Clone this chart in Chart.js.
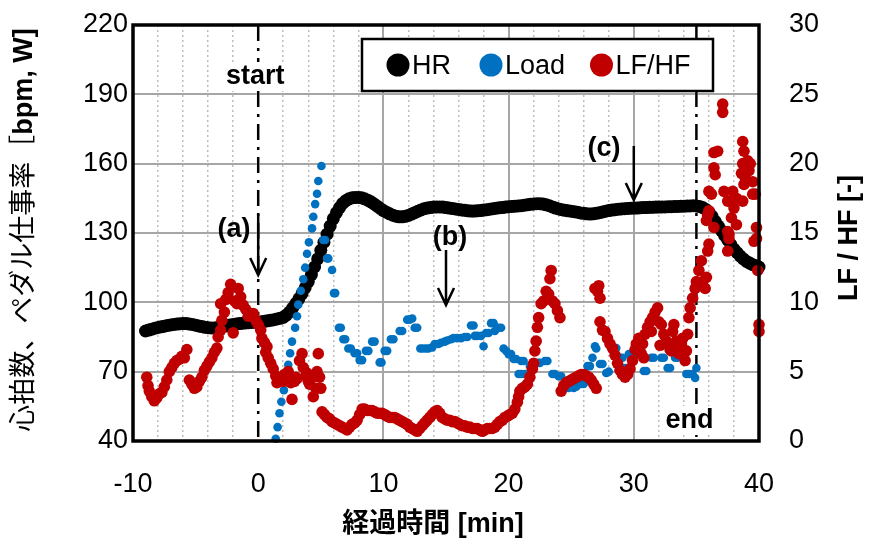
<!DOCTYPE html>
<html>
<head>
<meta charset="utf-8">
<script src="https://cdn.jsdelivr.net/npm/chart.js@4/dist/chart.umd.min.js"></script>
<style>
html,body{margin:0;padding:0;background:#fff;}
canvas{display:block;}
</style>
</head>
<body>
<canvas id="c" width="870" height="541"></canvas>
<script>
// ---------------- DATA ----------------
const xTickLabels = [-10, 0, 10, 20, 30, 40];
const leftTickLabels = [40, 70, 100, 130, 160, 190, 220];
const rightTickLabels = [0, 5, 10, 15, 20, 25, 30];
const seriesNames = ['HR', 'Load', 'LF/HF'];
const eventTimes = [0, 35];           // start / end  [min]
const eventNames = ['start', 'end'];
const noteNames = ['(a)', '(b)', '(c)'];
const noteTimes = [0, 15, 30];

// HR [bpm] sampled every 0.25 min from -9 min
const hrStart = -9, hrStep = 0.25;
const hrValues = [
 87.6,88.0,88.4,88.8, 89.1,89.4,89.7,90.0, 90.2,90.4,90.6,90.7, 90.8,90.8,90.6,90.4,
 90.1,89.8,89.5,89.2, 89.0,88.9,88.9,89.1, 89.3,89.6,89.9,90.2, 90.4,90.6,90.8,91.0,
 91.1,91.2,91.3,91.4, 91.5,91.6,91.8,92.0, 92.2,92.5,92.8,93.1, 93.5,94.5,95.8,97.5,
 99.5,101.5,103.8,106.3, 109.0,112.0,115.3,118.8, 122.5,126.0,129.5,133.0, 136.2,138.8,141.0,142.8,
 144.0,144.8,145.2,145.4, 145.4,145.2,144.8,144.2, 143.5,142.6,141.6,140.6, 139.7,139.0,138.3,137.7,
 137.3,137.0,137.0,137.2, 137.6,138.2,138.8,139.4, 140.0,140.5,140.8,141.0, 141.2,141.3,141.3,141.2,
 141.0,140.8,140.6,140.4, 140.2,140.0,139.8,139.6, 139.5,139.5,139.6,139.7, 139.9,140.1,140.3,140.5,
 140.7,140.9,141.0,141.2, 141.4,141.5,141.6,141.7, 141.8,142.0,142.2,142.4, 142.6,142.7,142.7,142.5,
 142.2,141.8,141.3,140.8, 140.4,140.1,139.8,139.6, 139.4,139.2,139.0,138.7, 138.5,138.3,138.2,138.3,
 138.5,138.8,139.1,139.4, 139.7,139.9,140.1,140.3, 140.4,140.5,140.6,140.7, 140.8,140.8,140.9,141.0,
 141.0,141.1,141.1,141.2, 141.2,141.3,141.3,141.4, 141.4,141.5,141.5,141.6, 141.6,141.7,141.7,141.8,
 141.7,141.5,141.0,140.2, 139.0,137.2,135.0,133.0, 131.0,129.0,127.0,125.0, 123.0,121.5,120.0,118.8,
 117.7,117.0,116.3,115.8, 115.3
];

// Load [W]  [time min, value]
const loadPoints = [
 [1.4,41],[1.55,46],[1.7,52],[1.85,57],[2.05,62],[2.25,68],[2.4,73],[2.55,78],[2.7,83],[2.95,89],
 [3.1,94],[3.2,99],[3.4,105],[3.6,110],[3.75,115],[3.9,121],[4.05,126],[4.3,132],[4.4,137],[4.55,142.5],
 [4.7,147],[4.8,152.5],[5.05,159],
 [5.2,127],[5.35,127],[5.5,119],[5.6,119],[5.9,114],[6.05,104],[6.15,104],[6.45,89],[6.6,89],[6.8,84],
 [6.95,84],[7.2,80],[7.4,80],[7.7,78],[7.9,78],[8.1,75],[8.3,75],[8.6,79],[8.8,79],[9.1,83],[9.3,83],
 [9.7,74],[9.85,74],[10.1,79],[10.3,79],[10.6,84],[10.8,84],[11.3,87.6],[11.5,87.6],[11.9,92.5],[12.1,92.5],
 [12.3,93],[12.5,89],[12.7,89],[12.95,80],[13.15,80],[13.4,80],[13.6,80],[13.9,80.5],[14.1,82],[14.4,82],
 [14.6,82.5],[14.9,83],[15.1,83.5],[15.4,84],[15.6,84.5],[15.9,84.5],[16.2,84.5],[16.5,85],[16.7,85],
 [17.0,90],[17.2,90],[17.3,85.5],[17.5,85.5],[17.8,85.5],[18.0,81],[18.2,86.7],[18.4,86.7],[18.6,91],
 [18.8,91],[18.9,87.6],[19.2,89],[19.4,89],[19.6,80],[19.8,79],[20.0,77.6],[20.2,77.6],[20.4,75.5],
 [20.6,75.5],[20.8,69],[21.0,74.6],[21.2,74.6],[21.0,69],[21.3,69],[21.7,72.4],[21.9,72.4],[22.3,73.8],
 [22.5,73.8],[22.9,74.6],[23.1,74.6],[23.5,69],[23.7,69],[24.0,68],[24.2,68],[24.6,63],[24.8,63],
 [25.2,63],[25.4,63.5],[25.8,64.7],[26.0,64.7],[26.3,72.4],[26.5,72.4],[26.7,76],[26.9,81],[27.0,80],
 [27.3,73.3],[27.5,73.3],[27.8,69.4],[28.0,70],[28.4,80.2],[28.6,80.2],[28.9,76],[29.1,76],[29.3,71.6],
 [29.5,71.6],[29.6,77.6],[29.8,77.6],[30.3,77.6],[30.5,77.6],[30.8,70.3],[31.0,70.3],[31.4,76],[31.6,76],
 [32.2,76],[32.4,76],[32.7,71.6],[32.9,71.6],[33.3,76],[33.5,76],[34.0,76],[34.2,69],[34.4,69],[34.7,69],
 [34.9,67.3],[35.0,71.6]
];

// LF/HF [-]  [time min, value]
const lfPoints = [
 [-8.9,4.6],[-8.8,4.0],[-8.7,3.6],[-8.5,3.2],[-8.3,2.9],[-8.1,3.1],[-7.9,3.4],[-7.7,3.5],[-7.5,3.9],
 [-7.3,4.4],[-7.1,5.0],[-6.9,5.3],[-6.7,5.6],[-6.5,5.8],[-6.3,5.9],[-6.1,6.1],[-5.9,6.0],[-5.7,6.6],
 [-5.5,4.4],[-5.3,4.1],[-5.1,3.8],[-4.9,3.9],[-4.7,4.3],[-4.5,4.6],[-4.3,5.1],[-4.1,5.4],[-3.9,5.7],
 [-3.7,6.0],[-3.5,6.4],[-3.3,6.7],[-3.2,7.5],[-3.0,8.0],[-2.9,8.7],[-3.0,9.9],[-2.7,9.3],[-2.6,10.2],
 [-2.4,10.7],[-2.2,11.3],[-2.0,7.8],[-1.9,10.1],[-1.7,9.9],[-1.6,11.0],[-1.4,10.4],[-1.2,9.8],[-1.0,9.5],
 [-0.8,9.0],[-0.6,9.2],[-0.4,9.2],[-0.2,8.7],[0.0,8.4],[0.2,8.0],[0.3,7.4],[0.5,7.1],[0.7,6.8],[0.6,6.4],
 [0.8,6.0],[1.0,5.6],[1.2,5.2],[1.4,4.7],[1.5,4.2],[1.7,4.3],[1.9,4.6],[2.0,4.3],[2.1,4.8],[2.2,4.4],
 [2.3,4.9],[2.4,5.0],[2.6,4.2],[2.7,3.0],[2.9,4.3],[3.0,4.6],[3.1,4.5],[3.3,5.8],[3.5,6.3],[3.6,5.3],
 [3.8,4.7],[3.9,4.9],[4.0,4.3],[4.1,4.1],[4.2,4.5],[4.4,3.2],[4.5,4.7],[4.6,3.8],[4.7,5.0],[4.8,6.3],
 [4.9,4.6],[5.0,3.8],
 [5.1,2.1],[5.3,1.9],[5.5,1.7],[5.7,1.6],[5.9,1.4],[6.1,1.3],[6.3,1.2],[6.5,1.1],[6.7,1.0],[6.9,0.9],
 [7.1,0.8],[7.3,1.0],[7.5,1.2],[7.7,1.3],[7.9,1.5],[8.1,1.9],[8.3,2.3],[8.5,2.3],[8.7,2.2],[8.9,2.2],
 [9.1,2.2],[9.3,2.1],[9.5,2.0],[9.7,2.0],[9.9,2.0],[10.1,1.9],[10.3,1.8],[10.5,1.7],[10.7,1.7],[10.9,1.7],
 [11.1,1.6],[11.3,1.5],[11.5,1.4],[11.7,1.3],[11.9,1.2],[12.1,1.0],[12.3,0.9],[12.5,0.8],[12.7,0.7],
 [12.9,0.9],[13.1,1.1],[13.3,1.3],[13.5,1.5],[13.7,1.7],[13.9,1.9],[14.1,2.1],[14.3,2.2],[14.5,2.0],
 [14.7,1.7],[14.9,1.6],[15.1,1.5],[15.3,1.5],[15.5,1.4],[15.7,1.4],[15.9,1.3],[16.1,1.2],[16.3,1.1],
 [16.5,1.1],[16.7,1.0],[16.9,1.0],[17.1,0.9],[17.3,0.9],[17.5,0.9],[17.7,0.8],[17.9,0.7],[18.1,0.8],
 [18.3,0.9],[18.5,0.9],[18.7,0.9],[18.9,1.0],[19.1,1.2],[19.3,1.4],[19.5,1.5],[19.7,1.7],[19.9,1.8],
 [20.1,1.9],[20.3,2.0],[20.5,2.3],[20.7,2.8],[20.8,3.2],[20.9,3.6],[21.1,3.8],[21.3,3.9],[21.5,4.1],
 [21.7,4.6],[21.9,5.2],[22.0,5.6],[22.1,6.5],[22.2,7.2],[22.3,8.2],[22.4,8.9],[22.6,9.9],[22.8,10.1],
 [23.0,10.8],[23.2,10.6],[23.3,11.7],[23.4,12.3],[23.5,10.1],[23.7,9.9],[23.9,9.4],[24.1,8.9],
 [24.2,3.6],[24.4,4.0],[24.6,4.2],[24.8,4.3],[25.0,4.4],[25.2,4.5],[25.4,4.6],[25.6,4.7],[25.8,4.8],
 [26.0,4.8],[26.2,4.7],[26.4,4.6],[26.6,4.4],[26.8,4.1],[27.0,3.8],
 [26.9,11.0],[27.1,10.8],[27.2,11.2],[27.3,10.3],[27.3,8.6],[27.5,8.0],[27.7,7.9],[27.9,7.4],[28.1,7.0],
 [28.3,6.7],[28.5,6.2],[28.7,5.6],[28.9,5.1],[29.1,4.8],[29.3,4.6],[29.5,4.8],[29.7,5.2],[29.9,5.8],
 [30.1,6.6],[30.2,7.0],[30.4,7.4],[30.6,6.3],[30.7,7.0],[30.8,6.0],[30.9,7.7],[31.1,8.2],[31.3,8.6],
 [31.4,7.9],[31.5,8.9],[31.7,9.3],[31.9,9.6],[32.0,8.6],[32.1,6.9],[32.2,8.4],[32.4,7.7],[32.6,7.2],
 [32.7,7.0],[32.9,6.6],[33.0,6.5],[33.1,7.9],[33.2,8.4],[33.4,7.2],[33.6,6.3],[33.7,6.8],[33.8,7.0],
 [33.9,7.4],[34.1,5.8],[34.2,6.5],[34.3,7.7],[34.4,8.9],[34.5,9.6],[34.7,10.3],[34.9,11.0],[35.0,11.5],
 [35.2,12.3],[35.4,13.0],[35.5,11.5],[35.7,11.0],[35.8,11.8],[35.9,13.7],[36.0,14.2],[35.8,15.9],
 [35.9,16.3],[36.0,16.6],[36.2,17.8],[36.0,18.0],[36.4,15.4],[36.4,19.7],[36.5,19.2],[36.4,20.8],
 [36.7,20.9],[37.1,24.3],[37.1,23.7],[37.2,18.0],[37.5,15.1],[37.5,13.7],[37.6,14.6],[37.6,14.9],
 [37.8,16.1],[38.0,16.8],[37.9,18.0],[38.2,17.5],[38.2,15.6],[38.7,17.3],[37.5,17.3],[38.6,19.3],
 [38.7,20.0],[38.7,21.6],[38.8,20.9],[38.8,18.5],[38.9,19.0],[39.1,20.2],[39.2,19.5],[39.3,20.0],
 [39.5,17.8],[39.5,18.7],[39.6,14.4],[39.7,17.8],[39.8,15.4],[39.8,14.6],[39.9,12.3],[40.0,8.4],[40.0,7.9]
];

// ---------------- STYLE ----------------
const COLORS = ['#000000', '#0070C0', '#C00000'];
const LATIN = "'Liberation Sans', Arial, sans-serif";
const CJK = "'Noto Sans CJK JP', 'Liberation Sans', sans-serif";
const FS = 27;

const hrData = hrValues.map((v, i) => ({x: hrStart + i * hrStep, y: v}));
const loadData = loadPoints.map(p => ({x: p[0], y: p[1]}));
const lfData = lfPoints.map(p => ({x: p[0], y: p[1]}));

function isMajor(ctx) { return ctx.tick && xTickLabels.includes(ctx.tick.value); }
function noPad(s) { s.paddingTop = 0; s.paddingBottom = 0; s.paddingLeft = 0; s.paddingRight = 0; }

function arrowDown(ctx, x, y1, y2) {
  ctx.beginPath();
  ctx.moveTo(x, y1); ctx.lineTo(x, y2);
  ctx.moveTo(x - 8, y2 - 17); ctx.lineTo(x, y2); ctx.lineTo(x + 8, y2 - 17);
  ctx.stroke();
}

function drawFrame(chart) {
  const ctx = chart.ctx;
  const L = chart.scales.x.getPixelForValue(xTickLabels[0]);
  const R = chart.scales.x.getPixelForValue(xTickLabels[xTickLabels.length - 1]);
  const T = chart.scales.y.getPixelForValue(leftTickLabels[leftTickLabels.length - 1]);
  const B = chart.scales.y.getPixelForValue(leftTickLabels[0]);
  ctx.save();
  ctx.setLineDash([]);
  ctx.globalAlpha = 1;
  ctx.strokeStyle = 'rgb(0,0,0)';
  ctx.lineWidth = 3.5;
  ctx.beginPath();
  ctx.moveTo(L, T); ctx.lineTo(R, T); ctx.lineTo(R, B); ctx.lineTo(L, B); ctx.closePath();
  ctx.stroke();
  ctx.restore();
}

const deco = {
  id: 'deco',
  beforeDatasetsDraw(chart) {
    const {ctx, chartArea: a, scales} = chart;
    ctx.save();
    // event lines (start / end)
    eventTimes.forEach(t => {
      const px = scales.x.getPixelForValue(t);
      ctx.strokeStyle = '#fff'; ctx.lineWidth = 3; ctx.setLineDash([]);
      ctx.beginPath(); ctx.moveTo(px, a.top); ctx.lineTo(px, a.bottom); ctx.stroke();
      ctx.strokeStyle = '#000'; ctx.lineWidth = 2.5; ctx.setLineDash([16, 7, 3, 7]);
      ctx.beginPath(); ctx.moveTo(px, a.top); ctx.lineTo(px, a.bottom); ctx.stroke();
    });
    ctx.restore();
  },
  afterDraw(chart) {
    const {ctx, chartArea: a, scales} = chart;
    drawFrame(chart);
    const X = v => scales.x.getPixelForValue(v);
    ctx.save();
    ctx.setLineDash([]);
    ctx.fillStyle = '#000'; ctx.strokeStyle = '#000';
    ctx.textAlign = 'center'; ctx.textBaseline = 'alphabetic';
    // start / end labels
    ctx.font = 'bold ' + FS + 'px ' + LATIN;
    const evY = [84, 428];
    eventNames.forEach((s, i) => {
      const px = X(eventTimes[i]) - (i === 0 ? 3 : 7);
      const w = ctx.measureText(s).width;
      ctx.fillStyle = '#fff';
      ctx.fillRect(px - w / 2 - 1, evY[i] - 22, w + 2, 29);
      ctx.fillStyle = '#000';
      ctx.fillText(s, px, evY[i]);
    });
    // (a)(b)(c) notes with arrows
    const noteLabelPos = [[234, 237], [450, 245], [604, 156]];
    const noteArrow = [[214, 275], [250, 305], [146, 200]];
    ctx.lineWidth = 2.5;
    noteNames.forEach((s, i) => {
      ctx.fillText(s, noteLabelPos[i][0], noteLabelPos[i][1]);
      arrowDown(ctx, X(noteTimes[i]), noteArrow[i][0], noteArrow[i][1]);
    });
    // legend box
    const lx = 362, ly = 39, lw = 351, lh = 52;
    ctx.fillStyle = '#fff'; ctx.fillRect(lx, ly, lw, lh);
    ctx.lineWidth = 2.5; ctx.strokeStyle = '#000'; ctx.strokeRect(lx, ly, lw, lh);
    const markX = [398, 491, 601.5];
    ctx.font = FS + 'px ' + LATIN; ctx.textAlign = 'left';
    chart.data.datasets.forEach((ds, i) => {
      ctx.fillStyle = ds.backgroundColor;
      ctx.beginPath(); ctx.arc(markX[i], 65, 11.5, 0, Math.PI * 2); ctx.fill();
      ctx.fillStyle = '#000';
      ctx.fillText(ds.label, markX[i] + 14, 74);
    });
    // axis titles
    ctx.textAlign = 'center';
    ctx.font = 'bold ' + FS + 'px ' + LATIN + ", 'Noto Sans CJK JP'";
    ctx.fillText('経過時間 [min]', 433, 532);
    // left title (rotated)
    ctx.save();
    ctx.translate(32, 230); ctx.rotate(-Math.PI / 2);
    const p1 = '心拍数、ペダル仕事率［', p2 = 'bpm, W]';
    ctx.font = FS + 'px ' + CJK; const w1 = ctx.measureText(p1).width;
    ctx.font = 'bold ' + FS + 'px ' + LATIN; const w2 = ctx.measureText(p2).width;
    let sx = -(w1 + w2) / 2;
    ctx.textAlign = 'left';
    ctx.font = FS + 'px ' + CJK; ctx.fillText(p1, sx, 0);
    ctx.font = 'bold ' + FS + 'px ' + LATIN; ctx.fillText(p2, sx + w1, 0);
    ctx.restore();
    // right title (rotated)
    ctx.save();
    ctx.translate(857, 238); ctx.rotate(-Math.PI / 2);
    ctx.textAlign = 'center';
    ctx.font = 'bold ' + FS + 'px ' + LATIN;
    ctx.fillText('LF / HF [-]', 0, 0);
    ctx.restore();
    ctx.restore();
  }
};

const tickFont = {family: LATIN, size: FS};

new Chart(document.getElementById('c'), {
  type: 'scatter',
  data: {
    datasets: [
      {label: seriesNames[0], data: hrData, yAxisID: 'y', backgroundColor: COLORS[0], pointRadius: 6.5, pointBorderWidth: 0, borderWidth: 0, order: 3, clip: false},
      {label: seriesNames[1], data: loadData, yAxisID: 'y', backgroundColor: COLORS[1], pointRadius: 4.3, pointBorderWidth: 0, borderWidth: 0, order: 2, clip: false},
      {label: seriesNames[2], data: lfData, yAxisID: 'y2', backgroundColor: COLORS[2], pointRadius: 5.8, pointBorderWidth: 0, borderWidth: 0, order: 1, clip: false}
    ]
  },
  options: {
    responsive: false,
    animation: false,
    events: [],
    layout: {padding: {top: 25, left: 0, right: 0, bottom: 0}},
    plugins: {legend: {display: false}, tooltip: {enabled: false}, title: {display: false}},
    scales: {
      x: {
        type: 'linear', position: 'bottom',
        min: xTickLabels[0], max: xTickLabels[xTickLabels.length - 1],
        afterFit: s => { s.height = 100; noPad(s); },
        ticks: {
          stepSize: 2, autoSkip: false, maxRotation: 0, minRotation: 0,
          color: '#000', font: tickFont, padding: 27,
          callback: v => (xTickLabels.includes(v) ? String(v) : '')
        },
        grid: {
          drawTicks: false,
          color: c => isMajor(c) ? '#a6a6a6' : '#bdbdbd',
          lineWidth: c => isMajor(c) ? 2 : 1.5
        },
        border: {display: false, dash: c => isMajor(c) ? [] : [2, 3]}
      },
      y: {
        type: 'linear', position: 'left',
        min: leftTickLabels[0], max: leftTickLabels[leftTickLabels.length - 1],
        afterFit: s => { s.width = 133; noPad(s); },
        ticks: {stepSize: leftTickLabels[1] - leftTickLabels[0], color: '#000', font: tickFont, padding: 5},
        grid: {drawTicks: false, color: '#a6a6a6', lineWidth: 2},
        border: {display: false}
      },
      y2: {
        type: 'linear', position: 'right',
        min: rightTickLabels[0], max: rightTickLabels[rightTickLabels.length - 1],
        afterFit: s => { s.width = 111; noPad(s); },
        ticks: {stepSize: rightTickLabels[1] - rightTickLabels[0], color: '#000', font: tickFont, padding: 30},
        grid: {display: false, drawTicks: false},
        border: {display: false}
      }
    }
  },
  plugins: [deco]
});
</script>
</body>
</html>
